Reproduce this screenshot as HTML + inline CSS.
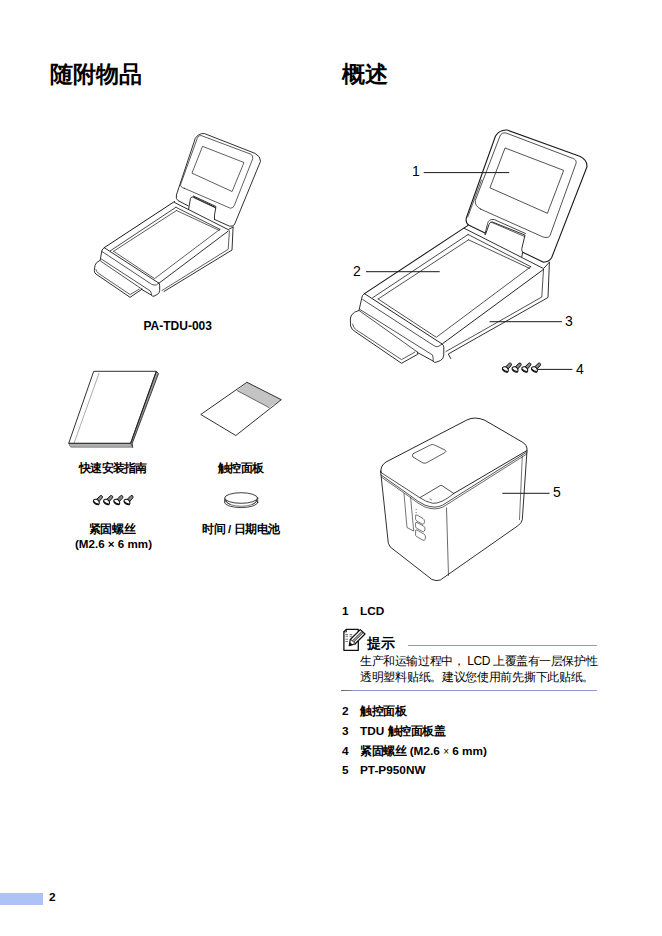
<!DOCTYPE html>
<html><head><meta charset="utf-8">
<style>
html,body{margin:0;padding:0;background:#fff;}
body{width:662px;height:936px;position:relative;overflow:hidden;font-family:"Liberation Sans",sans-serif;color:#000;}
.t{position:absolute;white-space:nowrap;line-height:1;}
.h{font-size:22.8px;font-weight:bold;}
.b{font-weight:bold;font-size:11.5px;}
.n{font-size:14px;}
.li{font-size:11.8px;font-weight:bold;}
.hint{font-size:14px;font-weight:bold;}
.tip{font-size:12px;}
svg{position:absolute;left:0;top:0;}
</style></head><body>
<div class="t h" style="left:50px;top:63px;">随附物品</div>
<div class="t h" style="left:342px;top:63px;">概述</div>
<div class="t b" style="left:143.5px;top:320px;font-size:12px;">PA-TDU-003</div>
<div class="t b" style="left:79px;top:462.5px;letter-spacing:-0.74px;">快速安装指南</div>
<div class="t b" style="left:217.5px;top:462.5px;letter-spacing:-0.47px;">触控面板</div>
<div class="t b" style="left:88.5px;top:523.5px;letter-spacing:-0.23px;">紧固螺丝</div>
<div class="t b" style="left:75px;top:538px;font-size:11.6px;">(M2.6 × 6 mm)</div>
<div class="t b" style="left:202px;top:524px;letter-spacing:-0.39px;">时间 / 日期电池</div>
<div class="t n" style="left:412px;top:164px;">1</div>
<div class="t n" style="left:353px;top:263.5px;">2</div>
<div class="t n" style="left:565px;top:313.5px;">3</div>
<div class="t n" style="left:576px;top:362px;">4</div>
<div class="t n" style="left:553px;top:485px;">5</div>
<div class="t li" style="left:342px;top:606px;">1</div><div class="t li" style="left:360px;top:606px;">LCD</div>
<div class="t hint" style="left:367px;top:636px;">提示</div>
<div class="t tip" style="left:360px;top:655px;letter-spacing:-0.41px;">生产和运输过程中， LCD 上覆盖有一层保护性</div>
<div class="t tip" style="left:360px;top:671px;letter-spacing:-0.3px;">透明塑料贴纸。建议您使用前先撕下此贴纸。</div>
<div style="position:absolute;left:408px;top:645px;width:189px;height:1px;background:#8a9ad2;"></div>
<div style="position:absolute;left:341px;top:690px;width:256px;height:1px;background:linear-gradient(to right,#6e6e6e 0,#777 8px,#8a9ad2 12px);"></div>
<div class="t li" style="left:342px;top:705.5px;">2</div><div class="t li" style="left:360px;top:705.5px;letter-spacing:-0.37px;">触控面板</div>
<div class="t li" style="left:342px;top:725.5px;">3</div><div class="t li" style="left:360px;top:725.5px;">TDU <span style="letter-spacing:-0.4px">触控面板盖</span></div>
<div class="t li" style="left:342px;top:745.5px;">4</div><div class="t li" style="left:360px;top:745.5px;"><span style="letter-spacing:-0.4px">紧固螺丝</span> (M2.6 <span style="font-weight:normal;font-size:10px">×</span> 6 mm)</div>
<div class="t li" style="left:342px;top:765px;">5</div><div class="t li" style="left:360px;top:765px;">PT-P950NW</div>
<div style="position:absolute;left:0;top:893px;width:43px;height:11.5px;background:#aec3f5;"></div>
<div class="t li" style="left:49px;top:892px;">2</div>
<svg width="662" height="936" viewBox="0 0 662 936" fill="none" stroke="#1a1a1a" stroke-width="0.9" stroke-linejoin="round" stroke-linecap="round">
<!-- LEFT DEVICE -->
<g id="ld">
 <!-- LCD outer -->
 <path d="M188.3,205.9 L178,200.6 Q175.6,199 176.4,195 L195.3,138.3 Q198.5,133.2 204.3,133.5 L255.1,153.4 Q260.8,156.5 260.5,161.3 L234.5,224.5 Q233,226.5 229.5,226.2 L214.5,219.4"/>
 <!-- LCD inner bezel -->
 <path d="M184.3,188.3 L230.3,208.2 Q233.3,208.5 234.5,205 L252.7,158.8 Q253.5,155 250.3,154 L201.3,135.6 Q198,135.2 197.1,138.9 L180.7,184.1 Q180,187.5 184.3,188.3 Z" stroke-width="0.7"/>
 <!-- screen -->
 <path d="M202.9,146.5 L244,162.5 L232.1,191.5 L192.3,173.3 Z" stroke-width="0.7"/>
 <!-- hinge -->
 <path d="M188.6,209.4 L190.4,198.6 Q191.2,196.3 193.5,197 L215.8,207.6 L214.5,214.9 L214.5,219.7"/>
 <path d="M193.3,196 L216,206.5" stroke-width="0.9"/><path d="M193.6,197.6 L215.7,208" stroke-width="0.7"/>
 <!-- base top outline -->
 <path d="M174.5,201.5 L104.5,247.5" stroke-width="1"/>
 <path d="M104.3,247.7 L158.8,283.1" stroke-width="0.9"/>
  <path d="M159.2,283 L228.2,231.1" stroke-width="0.9"/>
 <path d="M174.5,202.5 L228.2,229.6 L233.1,227"/>
 <!-- recess -->
 <path d="M175.9,207.3 L219.9,229.3 M175.9,207.3 L110.3,250.8" stroke-width="0.8"/>
 <path d="M176.5,210.5 L219.2,230.4 M113.6,251.3 L176.5,210.5 M113.6,251.3 L154.6,278.6 L219.9,229.3" stroke-width="0.7"/>
 <!-- right face -->
 <path d="M233.1,227 L232,250 L164,291.5"/>
 <path d="M229.4,230.8 L228.2,249.3 L162,290.5" stroke-width="0.7"/>
 <!-- lip -->
 <path d="M104.5,247.5 Q102,249 101.8,251 L100.2,260.2"/>
 <path d="M102.2,251.6 L151.6,284.3 Q154,285.5 156.4,284.9 L158.8,283.1" stroke-width="0.75"/>
 <path d="M101.3,259 L150.4,291 Q151.5,293 151.6,295.2" stroke-width="0.75"/>
 <path d="M158.8,283.1 Q159.7,283.8 159.7,285.5 L159.7,290.4 Q159.5,293 157.5,294.3 L154,296.2 Q152.5,296.6 151.6,295.2 L141.3,289.2"/>
 <!-- tray -->
 <path d="M100.9,261.3 L142,289.2" stroke-width="0.75"/>
 <path d="M100.2,260.2 Q95.5,262.5 95,265.4 L94.3,270.4 Q94.5,273 95.9,274 L130.1,297.3 L142,289.2"/>
 <path d="M95.9,269.5 Q96.5,272 98.2,273.1 L130.1,294.6 L139.2,289.2" stroke-width="0.7"/>
</g>
<!-- RIGHT DEVICE -->
<g id="rd">
 <!-- LCD outer -->
 <path d="M485,233.1 L469,225.3 Q465.3,223 466.3,218 L495.4,136.3 Q499,129.5 507.2,130 L579.7,156.3 Q587.5,160 586.9,167 L551.6,257.8 Q549,262 543.5,262.2 L522.7,252.2" stroke-width="1.1"/>
 <path d="M481.5,180 L467.8,217" stroke-width="0.7"/>
 <!-- inner bezel -->
 <path d="M480.8,209.2 L542.6,236.8 Q548,238.5 549.9,235.9 L576,163.5 Q577,159.5 572.4,158.2 L506,133 Q501.5,132.2 500,136 L475.3,200.4 Q474.5,206 480.8,209.2 Z" stroke-width="0.75"/>
 <!-- screen -->
 <path d="M505.4,148.1 L563.7,170.4 L547.4,213.3 L490.3,188 Z" stroke-width="0.75"/>
 <!-- hinge -->
 <path d="M485.5,234.4 L489,224.5 Q490,221.5 492.5,222 L525,235.1 L521.8,248.6 Q521.5,251 522.7,252.2 L521.8,256.7"/>
 <path d="M491.5,222.3 L524.8,236.6" stroke-width="0.7"/><path d="M484.9,234.4 L487.6,223.5 Q488.5,219 494,219.5 L525.5,233.5" stroke-width="0.8"/>
 <!-- base top -->
 <path d="M468,225.4 L364.5,293.6" stroke-width="1.1"/>
 <path d="M364.1,293.4 L442.3,344.1" stroke-width="0.95"/>
  <path d="M442.8,343.5 L543.5,269.4" stroke-width="0.95"/>
 <path d="M464.3,228.3 L543.5,268.5 L549.4,262.2"/>
 <!-- recess -->
 <path d="M468.1,234.5 L530.8,266.7 M468.1,234.5 L372.7,297.7" stroke-width="0.8"/>
 <path d="M468.5,239.8 L529.5,268.3 M378.1,299 L468.5,239.8 M378.1,299 L436.3,337.3 L530.8,266.7" stroke-width="0.75"/>
 <!-- right face -->
 <path d="M549.4,262.2 L548,297.5 L448.3,354 L450.7,358.5"/>
 <path d="M543.5,269.4 L541.8,297 L446,351.5" stroke-width="0.75"/>
 <!-- lip -->
 <path d="M364.5,293.6 Q361.5,295.5 361.8,298 L359.1,309.9"/>
 <path d="M362.7,299.5 L433.2,345.2 Q436,347 437.8,346.7 L442.3,344.1" stroke-width="0.75"/>
 <path d="M360,309.5 L432.5,355 Q433.5,358 433.2,361.1" stroke-width="0.75"/>
 <path d="M442.3,344.1 Q443.8,345.3 443.8,347.5 L443.8,355 Q443.5,359 440.5,360.5 L436,362.3 Q434,362.8 433.2,361.1 L418,352.8"/>
 <!-- tray -->
 <path d="M359.5,310.8 L417.4,352" stroke-width="0.75"/>
 <path d="M359.1,310.4 Q354,311.5 351.5,315 Q350,318 350.4,321 L350.6,326 Q351.2,329.5 355.9,332.1 L401.5,363.3 L417.7,354.3 L417.4,352"/>
 <path d="M352.5,324 Q353.5,328.5 356.5,330 L401.5,359.6 L415,352" stroke-width="0.7"/>
</g>
<!-- BOOKLET -->
<g id="booklet">
 <path d="M132.3,443.3 L158.5,373.6 L156.3,371.3 L130.6,443.3 L132.5,447.2 Z" fill="#999" stroke-width="0.8"/>
 <path d="M69.1,443.3 L130.6,443.3 L132.5,447.2 L71,447.2 Q69,446.5 69.1,443.3 Z" fill="#b0b0b0" stroke="#555" stroke-width="0.6"/>
 <path d="M94.1,371.3 L156.3,371.3 L130.6,443.3 L69.1,443.3 Z" stroke-width="0.9"/>
 <path d="M99,373.3 L74.1,443.1" stroke-width="0.5" stroke="#555"/>
</g>
<!-- SHEET -->
<g id="sheet">
 <path d="M247.3,382.5 L281.3,399.7 L269.1,407.6 L237.1,390.6 Z" fill="#c4c4c4" stroke="none"/>
 <path d="M247.3,382.5 L281.3,399.7 L235.8,435.5 L201.1,414.7 Z" stroke-width="0.9"/>
 <path d="M237.1,390.6 L269.1,407.6" stroke-width="0.6"/>
</g>
<!-- BATTERY -->
<g id="battery">
 <ellipse cx="241.2" cy="502.3" rx="16.6" ry="5.3" stroke-width="0.8"/>
 <path d="M224.7,498.5 L224.7,502 M257.7,498.5 L257.7,502" stroke-width="0.8"/>
 <path d="M226,501.5 Q229,506 241.2,506.3 Q253,506 256.5,501.5" stroke-width="0.6"/>
 <path d="M225.5,500 Q226.5,503.5 230,504.5 M256.9,500 Q256,503.5 252.5,504.5" stroke-width="0.6"/>
 <ellipse cx="241.2" cy="498" rx="16.5" ry="5.3" fill="#fff" stroke-width="0.85"/>
</g>
<!-- PRINTER -->
<g id="printer">
 <!-- lid top -->
 <path d="M381,472.5 Q380,466 386,462 L466.8,420 Q475,416 484.9,420.3 L522.3,442.1 Q527.5,445 527,450.5 L453.8,493.5" stroke-width="0.95"/>
 <path d="M381,472.5 L419.8,497.7 L440.2,485.6 Q441,485 442,485.6 L453.8,493.5" stroke-width="0.75"/>
 <path d="M419.8,497.7 Q425,501.5 432.7,503.3 Q441,504 453.8,493.5" stroke-width="0.75"/>
 <path d="M430,499 L431.5,499.8" stroke-width="0.6"/>
 <path d="M381,475 L410,495.4 Q418,502 425.1,505.2 Q430,507 434.9,507.1 Q439,507 442.5,505.2 L527,452" stroke-width="0.75"/>
 <path d="M381.3,477 L410,497.2 Q418,503.8 425,507 Q430,508.8 435,508.9 Q439,508.8 443,507 L526.8,454" stroke-width="0.65"/>
 <!-- lcd window -->
 <path d="M413.5,453.5 L430.5,445 Q432.5,444 434.5,445 L445,450 Q447,451.5 445,452.5 L427,462.5 Q425,463.8 423,463 L413,457 Q411,455 413.5,453.5 Z" stroke-width="0.7"/>
 <!-- body -->
 <path d="M380.6,471 L388.3,543.2 Q389.5,547.5 393.1,549.2 L431.8,579.4 Q436,581.5 440.3,580 L518.5,525.3 Q521.5,523 522.3,519.7 L527,450.5" stroke-width="0.9"/>
 <path d="M446.5,508 L448.5,575.5" stroke-width="0.65"/>
 <path d="M522.3,456.1 L519.5,519.7" stroke-width="0.6"/>
 <!-- slot -->
 <path d="M404,493.6 L407,527.5 L413.7,531.1 L410.6,497.3" stroke-width="0.6"/>
 <!-- buttons -->
 <path d="M415.5,516 Q415,514.5 417,515 L423,518.5 Q424.5,519.5 424.5,521.5 L424,523.5 Q423.5,524.8 422,524 L416.5,520.8 Q415.5,520 415.5,518.5 Z" stroke-width="0.6"/>
 <path d="M415.5,523.5 Q415,522 417,522.5 L423.5,526 Q425,527 425,529 L424.5,531 Q424,532.2 422.5,531.5 L416.5,528.2 Q415.5,527.5 415.5,526 Z" stroke-width="0.6"/>
 <path d="M415.5,531 Q415,529.5 417,530 L423.8,534 Q425.5,535 425.5,537 L425,539.5 Q424.5,541 423,540.2 L416.5,536.5 Q415.5,535.8 415.5,534.5 Z" stroke-width="0.6"/>
 <circle cx="416.1" cy="509.3" r="0.5" fill="#333" stroke="none"/>
 <circle cx="416.1" cy="512.4" r="0.5" fill="#333" stroke="none"/>
</g>
<!-- SCREWS -->
<defs><g id="screw">
 <path d="M96.3,499.8 L100.2,495.7 Q101.5,495 102.4,496.3 Q102.8,497.3 102,498.2 L98.8,501.8 Z" fill="#888" stroke="#111" stroke-width="1"/>
 <path d="M93.6,500 Q94.5,499 96.5,499.3 Q98.3,499.8 99.2,501.8 Q99.6,503.6 98.8,504.4 Q97.5,505 95.5,504 Q93.8,503 93.4,501.5 Z" fill="#fff" stroke="#111" stroke-width="1.1"/>
 <path d="M94,501.8 Q95,503.8 98.3,504.2" stroke="#111" stroke-width="1.2"/>
</g></defs>
<use href="#screw"/>
<use href="#screw" x="10.2"/>
<use href="#screw" x="20.4"/>
<use href="#screw" x="30.6"/>
<use href="#screw" x="409" y="-132.5"/>
<use href="#screw" x="418.7" y="-132.5"/>
<use href="#screw" x="428.4" y="-132.5"/>
<use href="#screw" x="438.1" y="-132.5"/>
<!-- NOTE ICON -->
<g id="note">
 <path d="M346.3,629.4 L358.3,629.4 L358.3,650.3 L343.9,650.3 L343.9,631.8 Z" fill="#fff" stroke="#111" stroke-width="1.3"/>
 <path d="M343.9,631.8 L346.5,632 L346.3,629.4" stroke="#111" stroke-width="0.8"/>
 <path d="M345.8,634.5 L347.6,634.5 M350,634.5 L351.8,634.5 M345.8,636.3 L347.6,636.3 M350,636.3 L351.8,636.3 M345.8,639.2 L347.6,639.2 M345.8,641.5 L347.6,641.5" stroke="#666" stroke-width="0.9"/>
 <path d="M350.3,639.5 L360.3,629.6 L365,634 L355.2,643.8 Z" fill="#fff" stroke="#111" stroke-width="1.3"/>
 <path d="M352.5,640.5 L361.5,631.6 L363,633 L354,642 Z" fill="#999" stroke="#222" stroke-width="0.6"/>
 <path d="M350.3,639.5 L349.3,645.5 L355.2,643.8" fill="#fff" stroke="#111" stroke-width="1.2"/>
 <path d="M349.3,645.5 L350.2,642.8 L352,644.5 Z" fill="#111" stroke="#111" stroke-width="0.8"/>
</g>
<!-- CALLOUTS -->
<g stroke-width="1">
 <path d="M424.1,172.6 L508.8,172.6"/>
 <path d="M366.4,271.7 L439.3,271.7"/>
 <path d="M490,321.7 L561.6,321.7"/>
 <path d="M538,369.4 L572,369.4"/>
 <path d="M502.7,493.3 L549.2,493.3"/>
</g>
</svg>
</body></html>
